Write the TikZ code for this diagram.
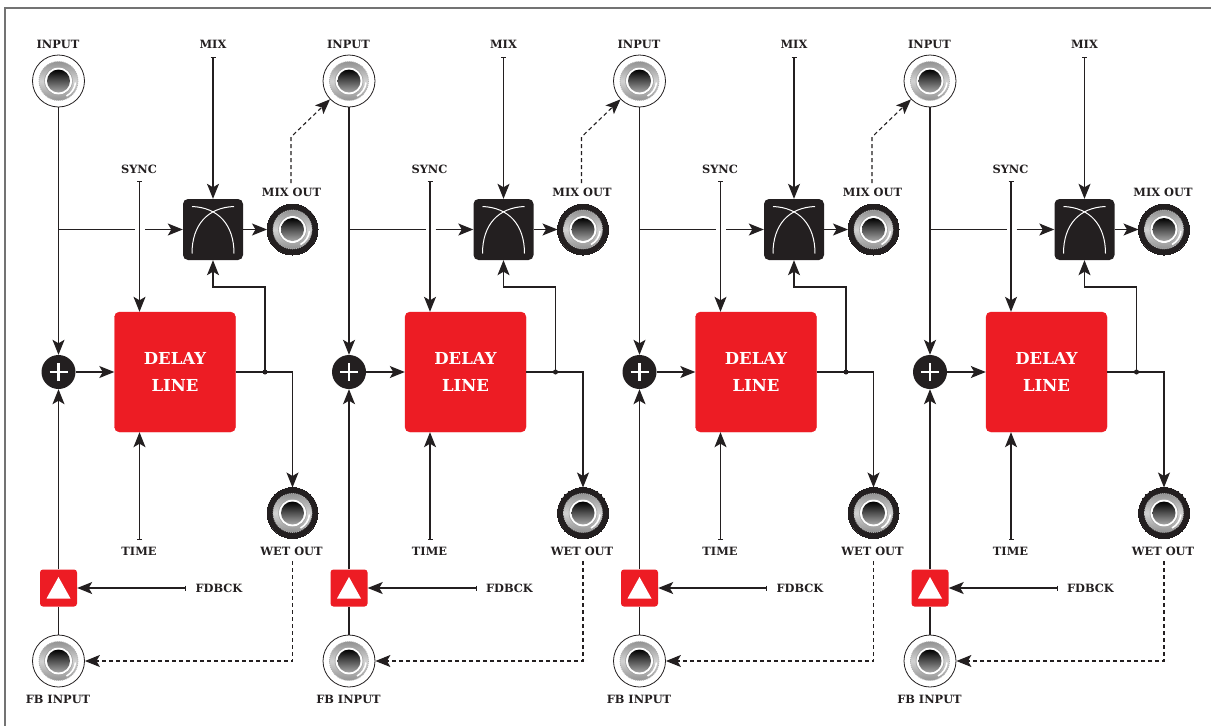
\documentclass[tikz,border=0pt]{standalone}
\usepackage{fontspec}
\setmainfont{DejaVu Serif}
\usetikzlibrary{arrows.meta}
\definecolor{inkblk}{HTML}{231F20}
\definecolor{delayred}{HTML}{ED1C24}
\tikzset{
  jackface/.style={path picture={
    \begin{scope}[shift={(path picture bounding box.center)}]
      \shade[shading angle=30, top color=gray!85, bottom color=gray!85, middle color=gray!35] (0,0) circle (19.5);
      \draw[gray!60, line width=0.8pt, dash pattern=on 1pt off 1pt] (0,0) circle (19.5);
      \draw[white, line width=1.6pt] (8,15) arc (62:5:17);
      \fill[white] (0,0) circle (13.5);
      \draw[gray!70, line width=0.6pt] (0,0) circle (14);
      \shade[top color=black, bottom color=gray!70] (0,0) circle (11.5);
    \end{scope}}},
  jackin/.style={circle, draw=inkblk, fill=white, line width=0.8pt, minimum size=52pt,
    inner sep=0pt, jackface},
  jackout/.style={circle, draw=inkblk, fill=inkblk, line width=0pt, minimum size=51pt,
    inner sep=0pt, jackface},
  lbl/.style={font=\bfseries\fontsize{11.4}{12}\selectfont, text=inkblk, inner sep=0pt},
  wire/.style={draw=inkblk, line width=1.1pt},
  ctl/.style={wire, -{Stealth[length=15pt, width=12pt, inset=3.5pt]}},
  ctlstub/.style={wire, {Bar[width=5pt, line width=1pt]}-{Stealth[length=15pt, width=12pt, inset=3.5pt]}},
  patch/.style={ctl, dash pattern=on 4pt off 3pt},
}
\begin{document}
\begin{tikzpicture}[x=1pt, y=-1pt]
  \useasboundingbox (0,0) rectangle (1211,726);
  \fill[white] (0,0) rectangle (1211,726);
  \draw[gray!90!black, line width=1.4pt] (5,726) -- (5,8) -- (1211,8);
  \foreach \i/\x in {1/0,2/290.5,3/581,4/871.5} {
    \begin{scope}[xshift=\x pt]
      \node[jackin] (in\i) at (58.5,81) {};
      \node[jackin] (fbin\i) at (58.5,661) {};
      \node[jackout] (mixout\i) at (292.5,229.5) {};
      \node[jackout] (wetout\i) at (292.5,513) {};
      \node[draw=delayred, fill=delayred, rounded corners=5pt, minimum width=121pt, minimum height=120pt,
        inner sep=0pt, align=center, text=white, font=\bfseries\fontsize{16.5}{27}\selectfont]
        (delay\i) at (175,372) {DELAY\\LINE};
      \node[fill=inkblk, rounded corners=5pt, minimum width=60pt, minimum height=61pt, inner sep=0pt,
        path picture={
          \begin{scope}[shift={(path picture bounding box.center)}]
            \draw[white, line width=1pt] (-21,-23) .. controls (5,-22) and (21,-5) .. (21,24);
            \draw[white, line width=1pt] (21,-23) .. controls (-5,-22) and (-21,-5) .. (-21,24);
          \end{scope}}] (xfade\i) at (213,229.5) {};
      \node[circle, fill=inkblk, minimum size=34pt, inner sep=0pt,
        path picture={
          \draw[white, line width=2.4pt] ([xshift=-9pt]path picture bounding box.center) -- ([xshift=9pt]path picture bounding box.center);
          \draw[white, line width=2.4pt] ([yshift=-9pt]path picture bounding box.center) -- ([yshift=9pt]path picture bounding box.center);
        }] (sum\i) at (58.5,372) {};
      \node[fill=delayred, rounded corners=3pt, minimum size=37pt, inner sep=0pt,
        path picture={
          \fill[white, sharp corners] ([yshift=11pt]path picture bounding box.center) -- ([shift={(-12pt,-10.5pt)}]path picture bounding box.center)
            -- ([shift={(12pt,-10.5pt)}]path picture bounding box.center) -- cycle;
        }] (amp\i) at (58.5,588) {};

      \node[lbl] (inlbl\i) at (58,44) {INPUT};
      \node[lbl] (mixlbl\i) at (213,44) {MIX};
      \node[lbl] (synclbl\i) at (139,169) {SYNC};
      \node[lbl] (mixoutlbl\i) at (291.5,192) {MIX OUT};
      \node[lbl] (timelbl\i) at (139,551.5) {TIME};
      \node[lbl] (wetlbl\i) at (291.5,551.5) {WET OUT};
      \node[lbl] (fdbcklbl\i) at (219,588.5) {FDBCK};
      \node[lbl] (fblbl\i) at (58,699.5) {FB INPUT};

      \coordinate (mixtop\i) at (213,57);
      \coordinate (synctop\i) at (139.5,181);
      \coordinate (timeend\i) at (139.5,540);
      \coordinate (fdbckend\i) at (186,588);
      \coordinate (split\i) at (58.5,229.5);
      \coordinate (gapa\i) at (135,229.5);
      \coordinate (gapb\i) at (145,229.5);
      \coordinate (tap\i) at (265,372);
      \coordinate (tapup\i) at (265,287);
      \coordinate (wetturn\i) at (292.5,372);
      \coordinate (wetdown\i) at (292.5,561);
      \coordinate (wetbend\i) at (292.5,661);

      \draw[ctl] (in\i) -- (sum\i);
      \draw[wire] (split\i) -- (gapa\i);
      \draw[ctl] (gapb\i) -- (xfade\i);
      \draw[ctlstub] (mixtop\i) -- (xfade\i);
      \draw[ctlstub] (synctop\i) -- (synctop\i |- delay\i.north);
      \draw[ctlstub] (timeend\i) -- (timeend\i |- delay\i.south);
      \draw[ctl] (xfade\i) -- (mixout\i);
      \draw[ctl] (sum\i) -- (delay\i);
      \draw[ctl] (delay\i.east) -- (wetturn\i) -- (wetout\i);
      \fill[inkblk] (tap\i) circle (2.5);
      \draw[ctl] (tap\i) -- (tapup\i) -- (tapup\i -| xfade\i) -- (xfade\i);
      \draw[ctl] (amp\i) -- (sum\i);
      \draw[wire] (fbin\i) -- (amp\i);
      \draw[ctlstub] (fdbckend\i) -- (amp\i);
      \draw[patch] (wetdown\i) -- (wetbend\i) -- (fbin\i);
    \end{scope}
  }
  \foreach \i/\j/\x in {1/2/0,2/3/290.5,3/4/581} {
    \draw[patch] ([xshift=\x pt]291,183) -- ([xshift=\x pt]291,137) -- (in\j);
  }
\end{tikzpicture}
\end{document}
